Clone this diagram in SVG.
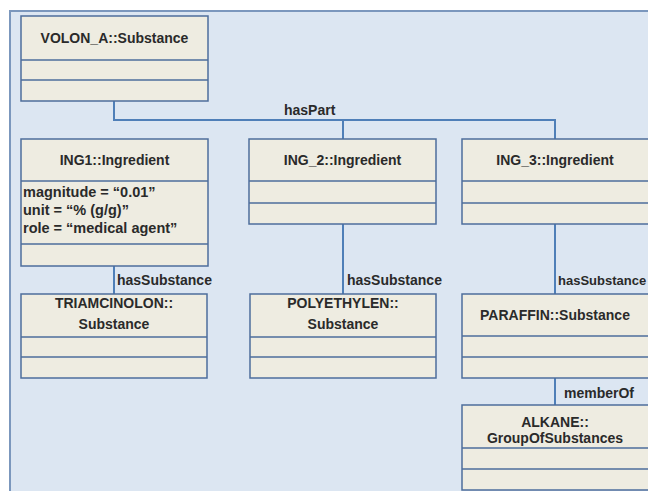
<svg xmlns="http://www.w3.org/2000/svg" width="648" height="491" viewBox="0 0 648 491">
<style>
.panel{fill:#dce6f2;stroke:#7b97bd;stroke-width:2}
.box{fill:#eeece1;stroke:#4d6e9c;stroke-width:1.5}
.sep{stroke:#4d6e9c;stroke-width:1.5;fill:none}
.conn{stroke:#4f7fb8;stroke-width:2;fill:none}
text{font-family:"Liberation Sans",Arial,sans-serif;font-weight:bold;font-size:14px;fill:#2a2a2a}
.c{text-anchor:middle}
.attr{font-size:14.5px}
</style>
<rect width="648" height="491" fill="#ffffff"/>
<rect class="panel" x="10" y="11" width="700" height="600"/>

<g id="connectors">
  <path class="conn" d="M114 101 V120 H555 V139"/>
  <path class="conn" d="M343 120 V139"/>
  <path class="conn" d="M114 266 V294"/>
  <path class="conn" d="M343 224 V294"/>
  <path class="conn" d="M555 224 V294"/>
  <path class="conn" d="M555 378 V405"/>
  <text x="284" y="115">hasPart</text>
  <text x="117" y="285">hasSubstance</text>
  <text x="347" y="285">hasSubstance</text>
  <text x="558" y="285" style="font-size:13px">hasSubstance</text>
  <text x="564" y="398">memberOf</text>
</g>

<g id="volon">
  <rect class="box" x="21" y="16" width="187" height="85"/>
  <path class="sep" d="M21 60 H208 M21 80 H208"/>
  <text class="c" x="114.5" y="43">VOLON_A::Substance</text>
</g>

<g id="ing1">
  <rect class="box" x="21" y="139" width="187" height="127"/>
  <path class="sep" d="M21 181 H208 M21 244 H208"/>
  <text class="c" x="114.5" y="165">ING1::Ingredient</text>
  <text class="attr" x="23" y="197">magnitude = “0.01”</text>
  <text class="attr" x="23" y="215">unit = “% (g/g)”</text>
  <text class="attr" x="23" y="233">role = “medical agent”</text>
</g>

<g id="ing2">
  <rect class="box" x="249" y="139" width="187" height="85"/>
  <path class="sep" d="M249 181 H436 M249 203 H436"/>
  <text class="c" x="342.5" y="165">ING_2::Ingredient</text>
</g>

<g id="ing3">
  <rect class="box" x="462" y="139" width="188" height="85"/>
  <path class="sep" d="M462 181 H650 M462 203 H650"/>
  <text class="c" x="555" y="165">ING_3::Ingredient</text>
</g>

<g id="triamcinolon">
  <rect class="box" x="21" y="294" width="186" height="84"/>
  <path class="sep" d="M21 337 H207 M21 357 H207"/>
  <text class="c" x="114" y="308">TRIAMCINOLON::</text>
  <text class="c" x="114" y="329">Substance</text>
</g>

<g id="polyethylen">
  <rect class="box" x="250" y="294" width="186" height="84"/>
  <path class="sep" d="M250 337 H436 M250 357 H436"/>
  <text class="c" x="343" y="308">POLYETHYLEN::</text>
  <text class="c" x="343" y="329">Substance</text>
</g>

<g id="paraffin">
  <rect class="box" x="462" y="294" width="188" height="84"/>
  <path class="sep" d="M462 336 H650 M462 357 H650"/>
  <text class="c" x="555" y="320">PARAFFIN::Substance</text>
</g>

<g id="alkane">
  <rect class="box" x="462" y="405" width="188" height="85"/>
  <path class="sep" d="M462 448 H650 M462 469 H650"/>
  <text class="c" x="555" y="427">ALKANE::</text>
  <text class="c" x="555" y="443">GroupOfSubstances</text>
</g>
</svg>
